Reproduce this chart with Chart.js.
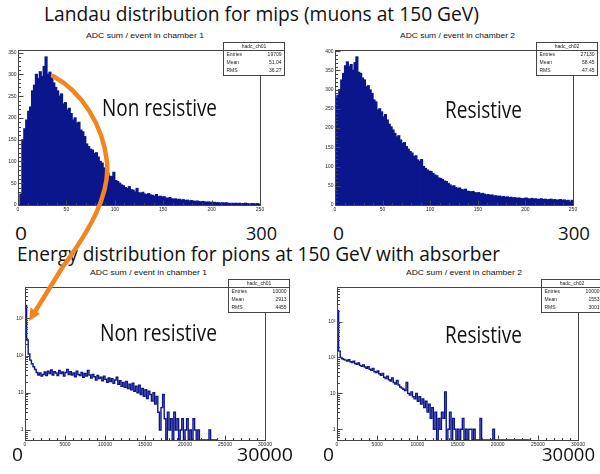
<!DOCTYPE html>
<html>
<head>
<meta charset="utf-8">
<title>ADC sum per event</title>
<script src="https://cdn.jsdelivr.net/npm/chart.js"></script>
<style>
  body { margin: 0; background: #fff; }
  #page { position: relative; width: 600px; height: 474px; overflow: hidden; background: #fff; }
  canvas { position: absolute; }
  .label { position: absolute; white-space: nowrap; line-height: 1; color: #111; transform-origin: 0 0; }
  #arrow { position: absolute; left: 0; top: 0; }
</style>
</head>
<body>
<div id="page">
  <canvas id="muonCh1"></canvas>
  <canvas id="muonCh2"></canvas>
  <canvas id="pionCh1"></canvas>
  <canvas id="pionCh2"></canvas>
  <svg id="arrow" width="600" height="474">
    <path d="M53,76 C82,92 103,125 107,162 C110,195 90,230 62,268 L36,310" fill="none" stroke="#f3841e" stroke-width="4.5" stroke-linecap="round"/>
    <polygon points="29,321 40,314 30.5,307.5" fill="#f3841e"/>
  </svg>
</div>
<script>
// muons at 150 GeV: ADC sum per event, bins of 2 counts from 0 to 250
const muonBinWidth = 2;
const muonCh1 = [
  0, 25, 150, 175, 195, 215, 225, 262, 275, 300,
  290, 306, 295, 318, 340, 300, 305, 295, 280, 270,
  262, 250, 255, 232, 235, 218, 222, 210, 195, 200,
  188, 190, 172, 168, 157, 140, 134, 128, 126, 118,
  120, 110, 100, 96, 85, 80, 73, 66, 65, 75,
  56, 54, 50, 46, 44, 40, 38, 42, 35, 34,
  30, 38, 28, 27, 29, 25, 24, 26, 23, 22,
  20, 24, 19, 20, 18, 19, 16, 15, 17, 14,
  13, 14, 12, 13, 11, 12, 10, 11, 9, 10,
  9, 8, 9, 8, 7, 8, 7, 6, 7, 6,
  5, 6, 5, 5, 4, 5, 4, 5, 4, 3,
  4, 3, 4, 3, 4, 3, 3, 4, 3, 2,
  3, 3, 2, 3, 2
];
const muonCh2 = [
  280, 285, 300, 325, 342, 362, 372, 360, 365, 350,
  370, 385, 345, 342, 330, 325, 307, 310, 299, 290,
  273, 268, 247, 250, 242, 229, 235, 221, 210, 203,
  195, 186, 177, 180, 169, 160, 162, 152, 145, 139,
  135, 126, 128, 117, 113, 118, 100, 95, 91, 88,
  87, 82, 78, 76, 70, 69, 66, 62, 61, 56,
  52, 48, 50, 45, 43, 44, 40, 39, 41, 36,
  35, 34, 35, 32, 31, 32, 29, 30, 28, 26,
  27, 25, 26, 23, 24, 22, 23, 21, 22, 20,
  21, 19, 20, 18, 19, 17, 18, 17, 16, 17,
  18, 16, 15, 17, 15, 16, 14, 15, 16, 14,
  15, 13, 14, 15, 13, 14, 12, 13, 14, 12,
  13, 11, 12, 8, 12
];
const muonXTicks = [0, 50, 100, 150, 200, 250];
const muonCh1YTicks = [0, 50, 100, 150, 200, 250, 300, 350];
const muonCh2YTicks = [0, 50, 100, 150, 200, 250, 300, 350, 400];

// pions at 150 GeV with absorber: bins of 200 counts from 0 to 24000
const pionBinWidth = 200;
const pionCh1 = [
  2200, 260, 110, 75, 60, 50, 42, 35, 30, 34,
  28, 31, 36, 29, 38, 33, 41, 30, 37, 34,
  29, 40, 33, 36, 28, 35, 42, 31, 37, 30,
  34, 27, 38, 31, 29, 35, 26, 33, 28, 40,
  30, 25, 31, 27, 22, 29, 24, 26, 21, 28,
  23, 19, 25, 20, 24, 18, 22, 26, 17, 21,
  15, 19, 14, 20, 13, 17, 12, 18, 11, 15,
  10, 16, 9, 13, 8, 12, 7, 11, 9, 6,
  10, 5, 8, 3, 1, 4, 9, 2, 0, 3,
  1, 2, 0, 3, 1, 2, 0, 1, 2, 0,
  1, 2, 0, 1, 0, 2, 1, 0, 1, 0,
  0, 0, 0, 0, 0, 1, 0, 0, 0, 0
];
const pionCh2 = [
  2000, 150, 100, 92, 88, 84, 80, 86, 76, 72,
  78, 68, 64, 70, 60, 57, 62, 54, 50, 55,
  47, 44, 49, 40, 38, 42, 35, 32, 36, 28,
  26, 30, 24, 22, 27, 20, 18, 23, 17, 15,
  14, 13, 12, 20, 10, 9, 11, 8, 7, 10,
  6, 8, 5, 7, 4, 6, 3, 5, 2, 4,
  1, 3, 0, 2, 1, 3, 2, 11, 0, 1,
  3, 0, 2, 1, 0, 1, 0, 1, 2, 0,
  1, 0, 1, 1, 0, 1, 0, 0, 0, 2,
  0, 0, 0, 0, 0, 0, 0, 1, 0, 0,
  0, 0, 0, 0, 0, 0, 0, 0, 0, 0,
  0, 0, 0, 0, 0, 0, 0, 0, 0, 0
];
const pionXTicks = [0, 5000, 10000, 15000, 20000, 25000, 30000];
const pionYTicks = [1, 10, 100, 1000];
const pionYLabels = ['1', '10', '10²', '10³'];

// statistics boxes, in chart order
const statNames = ['hadc_ch01', 'hadc_ch02', 'hadc_ch01', 'hadc_ch02'];
const statEntries = ['19709', '27130', '10000', '10000'];
const statMeans = ['51.04', '58.45', '2913', '1553'];
const statRms = ['36.27', '47.45', '4455', '3001'];

const histBlue = '#0c168c';

// frame of each plot on the page
const frames = {
  muonCh1: { left: 18, top: 50, right: 260, bottom: 205 },
  muonCh2: { left: 335, top: 50, right: 573, bottom: 205 },
  pionCh1: { left: 25, top: 287, right: 265, bottom: 440 },
  pionCh2: { left: 337, top: 287, right: 578, bottom: 440 }
};
const pad = { left: 24, top: 10, right: 28, bottom: 14 };

function placeCanvas(id) {
  const f = frames[id];
  const c = document.getElementById(id);
  c.width = f.right - f.left + pad.left + pad.right;
  c.height = f.bottom - f.top + pad.top + pad.bottom;
  c.style.left = (f.left - pad.left) + 'px';
  c.style.top = (f.top - pad.top) + 'px';
  return c;
}

function statFor(i) {
  return {
    name: statNames[i],
    rows: [['Entries', statEntries[i]], ['Mean', statMeans[i]], ['RMS', statRms[i]]]
  };
}

// ROOT-like frame: box, inward ticks, small labels and the stats box
const rootFrame = {
  id: 'rootFrame',
  afterDraw(chart, args, o) {
    const { ctx, chartArea: a } = chart;
    const xs = chart.scales.x, ys = chart.scales.y;
    const L = Math.round(a.left) + 0.5, R = Math.round(a.right) + 0.5;
    const T = Math.round(a.top) + 0.5, B = Math.round(a.bottom) + 0.5;
    ctx.save();
    ctx.strokeStyle = '#444';
    ctx.lineWidth = 1;
    ctx.strokeRect(L, T, R - L, B - T);

    ctx.beginPath();
    for (let v = 0; v <= xs.max + 1e-6; v += o.xMinor) {
      const px = Math.round(xs.getPixelForValue(v)) + 0.5;
      const len = o.xTicks.includes(v) ? 5 : 2.5;
      ctx.moveTo(px, B);
      ctx.lineTo(px, B - len);
    }
    if (o.log) {
      const e0 = Math.floor(Math.log10(ys.min)), e1 = Math.ceil(Math.log10(ys.max));
      for (let e = e0; e <= e1; e++) {
        for (let k = 1; k <= 9; k++) {
          const v = k * Math.pow(10, e);
          if (v < ys.min || v > ys.max) continue;
          const py = Math.round(ys.getPixelForValue(v)) + 0.5;
          ctx.moveTo(L, py);
          ctx.lineTo(L + (k === 1 ? 5 : 2.5), py);
        }
      }
    } else {
      for (let v = 0; v <= ys.max + 1e-6; v += o.yMinor) {
        const py = Math.round(ys.getPixelForValue(v)) + 0.5;
        ctx.moveTo(L, py);
        ctx.lineTo(L + (o.yTicks.includes(v) ? 5 : 2.5), py);
      }
    }
    ctx.stroke();

    ctx.fillStyle = '#222';
    ctx.font = '5px "Liberation Sans", Arial, sans-serif';
    ctx.textAlign = 'center';
    ctx.textBaseline = 'top';
    o.xTicks.forEach(v => ctx.fillText(String(v), xs.getPixelForValue(v), B + 2));
    ctx.textAlign = 'right';
    ctx.textBaseline = 'middle';
    o.yTicks.forEach((v, i) => ctx.fillText(o.yLabels[i], L - 2, ys.getPixelForValue(v)));

    const s = o.stat;
    const bx = Math.round(a.right) - 37 + 0.5, by = Math.round(a.top) - 8 + 0.5;
    const bw = 61, bh = 33;
    ctx.fillStyle = '#fff';
    ctx.fillRect(bx, by, bw, bh);
    ctx.strokeRect(bx, by, bw, bh);
    ctx.beginPath();
    ctx.moveTo(bx, by + 8);
    ctx.lineTo(bx + bw, by + 8);
    ctx.stroke();
    ctx.fillStyle = '#222';
    ctx.textAlign = 'center';
    ctx.fillText(s.name, bx + bw / 2, by + 4.5);
    s.rows.forEach(([k, val], i) => {
      const ry = by + 12.5 + i * 8;
      ctx.textAlign = 'left';
      ctx.fillText(k, bx + 3, ry);
      ctx.textAlign = 'right';
      ctx.fillText(val, bx + bw - 3, ry);
    });
    ctx.restore();
  }
};

function muonChart(id, counts, yTicks, yMax, stat) {
  return new Chart(placeCanvas(id), {
    type: 'bar',
    data: {
      datasets: [{
        data: counts.map((c, i) => ({ x: (i + 0.5) * muonBinWidth, y: c })),
        backgroundColor: histBlue,
        borderWidth: 0,
        inflateAmount: 0.6,
        barPercentage: 1,
        categoryPercentage: 1
      }]
    },
    options: {
      responsive: false,
      animation: false,
      layout: { padding: pad },
      plugins: {
        legend: { display: false },
        tooltip: { enabled: false },
        rootFrame: { xTicks: muonXTicks, xMinor: 10, yTicks, yLabels: yTicks.map(String), yMinor: 10, stat }
      },
      scales: {
        x: { type: 'linear', display: false, offset: false, min: 0, max: 250 },
        y: { type: 'linear', display: false, min: 0, max: yMax }
      }
    },
    plugins: [rootFrame]
  });
}

function pionChart(id, counts, yMin, yMax, stat) {
  // empty bins sit on the bottom edge of the log axis
  const pts = counts.map((c, i) => ({ x: i * pionBinWidth, y: Math.max(c, yMin) }));
  pts.push({ x: counts.length * pionBinWidth, y: pts[pts.length - 1].y });
  return new Chart(placeCanvas(id), {
    type: 'line',
    data: {
      datasets: [{
        data: pts,
        borderColor: histBlue,
        borderWidth: 1.4,
        pointRadius: 0,
        stepped: true,
        fill: false
      }]
    },
    options: {
      responsive: false,
      animation: false,
      layout: { padding: pad },
      plugins: {
        legend: { display: false },
        tooltip: { enabled: false },
        rootFrame: { xTicks: pionXTicks, xMinor: 1000, yTicks: pionYTicks, yLabels: pionYLabels, log: true, stat }
      },
      scales: {
        x: { type: 'linear', display: false, min: 0, max: 30000 },
        y: { type: 'logarithmic', display: false, min: yMin, max: yMax }
      }
    },
    plugins: [rootFrame]
  });
}

muonChart('muonCh1', muonCh1, muonCh1YTicks, 356, statFor(0));
muonChart('muonCh2', muonCh2, muonCh2YTicks, 403, statFor(1));
pionChart('pionCh1', pionCh1, 0.54, 6900, statFor(2));
pionChart('pionCh2', pionCh2, 0.5, 9200, statFor(3));

// slide text; each piece is stretched to its horizontal span
const slideFont = '"Open Sans", Lato, sans-serif';
const plotFont = '"Liberation Sans", Arial, sans-serif';
const texts = [
  { t: 'Landau distribution for mips (muons at 150 GeV)', x0: 44, x1: 479, cy: 15, size: 20, font: slideFont },
  { t: 'Energy distribution for pions at 150 GeV with absorber', x0: 17, x1: 500, cy: 255, size: 20, font: slideFont },
  { t: 'ADC sum / event in chamber 1', x0: 86, x1: 204, cy: 36, size: 8, font: plotFont },
  { t: 'ADC sum / event in chamber 2', x0: 400, x1: 515, cy: 36, size: 8, font: plotFont },
  { t: 'ADC sum / event in chamber 1', x0: 90, x1: 207, cy: 273, size: 8, font: plotFont },
  { t: 'ADC sum / event in chamber 2', x0: 406, x1: 522, cy: 273, size: 8, font: plotFont },
  { t: 'Non resistive', x0: 102, x1: 217, cy: 108.5, size: 23, font: slideFont },
  { t: 'Resistive', x0: 445, x1: 522, cy: 110, size: 23, font: slideFont },
  { t: 'Non resistive', x0: 100, x1: 217, cy: 333.5, size: 23, font: slideFont },
  { t: 'Resistive', x0: 445, x1: 522, cy: 335, size: 23, font: slideFont },
  { t: '0', x0: 15, x1: 27, cy: 233.5, size: 18, font: slideFont },
  { t: '300', x0: 246, x1: 277, cy: 233.5, size: 18, font: slideFont },
  { t: '0', x0: 333, x1: 344, cy: 233.5, size: 18, font: slideFont },
  { t: '300', x0: 558, x1: 590, cy: 233.5, size: 18, font: slideFont },
  { t: '0', x0: 12, x1: 23, cy: 455.5, size: 19, font: slideFont },
  { t: '30000', x0: 237, x1: 293, cy: 455.5, size: 19, font: slideFont },
  { t: '0', x0: 323, x1: 334, cy: 455.5, size: 19, font: slideFont },
  { t: '30000', x0: 542, x1: 595, cy: 455.5, size: 19, font: slideFont }
];

const page = document.getElementById('page');
const arrow = document.getElementById('arrow');
const textEls = texts.map(d => {
  const el = document.createElement('div');
  el.className = 'label';
  el.textContent = d.t;
  el.style.font = d.size + 'px ' + d.font;
  el.style.lineHeight = '1';
  el.style.left = d.x0 + 'px';
  el.style.top = (d.cy - 0.53 * d.size) + 'px';
  page.insertBefore(el, arrow);
  return el;
});

function fitTexts() {
  texts.forEach((d, i) => {
    const el = textEls[i];
    el.style.transform = 'none';
    const w = el.getBoundingClientRect().width;
    el.style.transform = 'scaleX(' + ((d.x1 - d.x0) / w) + ')';
  });
}
fitTexts();
document.fonts.ready.then(fitTexts);
</script>
</body>
</html>
